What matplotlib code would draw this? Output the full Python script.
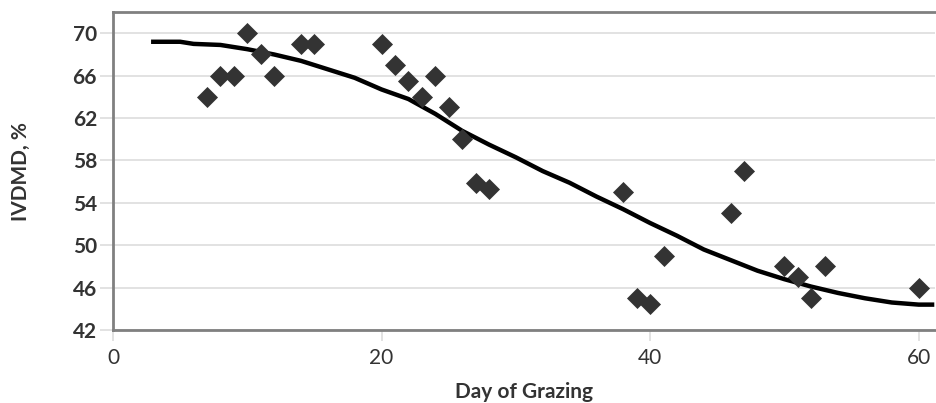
import matplotlib
matplotlib.use("Agg")
import matplotlib.pyplot as plt

# observed points
days = [7, 8, 9, 10, 11, 12, 14, 15, 20, 21, 22, 23, 24, 25, 26, 27, 28,
        38, 39, 40, 41, 46, 47, 50, 51, 52, 53, 60]
ivdmd = [64, 66, 66, 70, 68, 66, 69, 69, 69, 67, 65.5, 64, 66, 63, 60, 55.9, 55.3,
         55, 45, 44.5, 49, 53, 57, 48, 47, 45, 48, 46]

# fitted trend line
fit_days = [3, 5, 6, 8, 10, 12, 14, 16, 18, 20, 22, 24, 26, 28, 30, 32, 34, 36,
            38, 40, 42, 44, 46, 48, 50, 52, 54, 56, 58, 60, 61]
fit_vals = [69.2, 69.2, 69.0, 68.9, 68.5, 68.0, 67.4, 66.6, 65.8, 64.7, 63.8, 62.4,
            60.8, 59.5, 58.3, 57.0, 55.9, 54.6, 53.4, 52.1, 50.9, 49.6, 48.6, 47.6,
            46.8, 46.1, 45.5, 45.0, 44.6, 44.4, 44.4]

yticks = [42, 46, 50, 54, 58, 62, 66, 70]
xticks = [0, 20, 40, 60]

plt.rcParams['font.family'] = ['Lato', 'DejaVu Sans']

fig = plt.figure(figsize=(9.37, 4.03), dpi=100)
ax = fig.add_axes([0.1206, 0.181, 0.877, 0.789])

ax.plot(fit_days, fit_vals, color='black', linewidth=3.2, zorder=3)
ax.scatter(days, ivdmd, marker='D', s=115, color='#333333', zorder=4, linewidths=0)

ax.set_xlim(0, 61.2)
ax.set_ylim(42, 72)
ax.set_yticks(yticks)
ax.set_xticks(xticks)

ax.grid(axis='y', color='#dddddd', linewidth=1.2)
ax.set_axisbelow(True)

for side in ['left', 'top', 'bottom']:
    ax.spines[side].set_color('#808080')
    ax.spines[side].set_linewidth(2)
ax.spines['right'].set_visible(False)

ax.tick_params(axis='y', length=9.5, color='#dddddd', width=1.2, labelsize=15,
               labelcolor='#333333', pad=2)
ax.tick_params(axis='x', length=8, color='#dddddd', width=1.2, labelsize=15,
               labelcolor='#333333', pad=5)
for lbl in ax.get_yticklabels():
    lbl.set_fontweight('bold')

ax.set_ylabel('IVDMD, %', fontsize=15, fontweight='bold', color='#333333', labelpad=30)
ax.set_xlabel('Day of Grazing', fontsize=15, fontweight='bold', color='#333333', labelpad=10)

fig.savefig('out.png', dpi=100)
